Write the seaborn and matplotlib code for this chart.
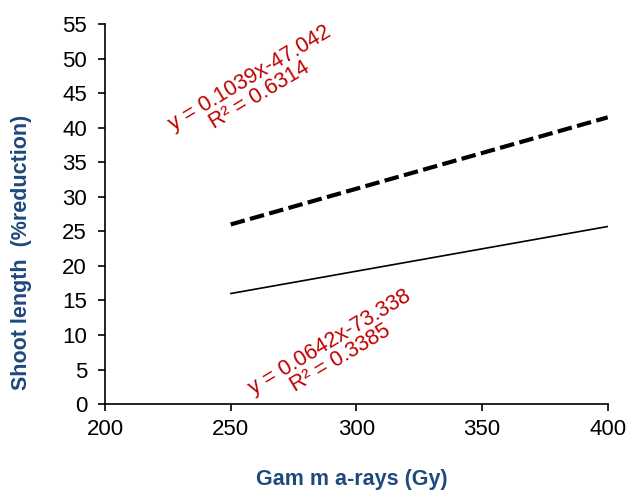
import numpy as np
import pandas as pd
import seaborn as sns
from matplotlib import pyplot as plt

# data
dose = [250, 400]
upper = [26.0, 41.5]
lower = [16.0, 25.7]
eq_upper = 'y = 0.1039x-47.042\nR² = 0.6314'
eq_lower = 'y = 0.0642x-73.338\nR² = 0.3385'
x_ticks = [200, 250, 300, 350, 400]
y_ticks = list(range(0, 60, 5))

sns.set_style('ticks', {'axes.edgecolor': 'black', 'xtick.color': 'black',
                        'ytick.color': 'black', 'text.color': 'black'})
plt.rcParams['font.family'] = ['Liberation Sans', 'DejaVu Sans']

df = pd.DataFrame({'dose': dose + dose,
                   'value': upper + lower,
                   'series': ['upper'] * 2 + ['lower'] * 2})

fig, ax = plt.subplots(figsize=(6.33, 4.91), dpi=100)
fig.subplots_adjust(left=0.166, right=0.96, top=0.951, bottom=0.177)

sns.lineplot(data=df[df.series == 'upper'], x='dose', y='value', ax=ax,
             color='black', linewidth=3, linestyle=(0, (3.5, 1.3)))
sns.lineplot(data=df[df.series == 'lower'], x='dose', y='value', ax=ax,
             color='black', linewidth=1.2)

ax.set_xlim(200, 400)
ax.set_ylim(0, 55)
ax.set_xticks(x_ticks)
ax.set_yticks(y_ticks)
ax.tick_params(labelsize=16, length=5, width=1.2, direction='out',
               color='black', labelcolor='black')
ax.tick_params(axis='x', pad=6)
ax.tick_params(axis='y', pad=8)
for side in ['left', 'bottom']:
    ax.spines[side].set_linewidth(1.2)
    ax.spines[side].set_color('black')
sns.despine(ax=ax)

ax.set_xlabel('Gam m a-rays (Gy)', fontsize=15.5, fontweight='bold', color='#1F497D')
ax.set_ylabel('Shoot length  (%reduction)', fontsize=15.5, fontweight='bold', color='#1F497D')
ax.xaxis.set_label_coords(0.49, -0.17)
ax.yaxis.set_label_coords(-0.145, 0.4)

ax.text(259.6, 45.9, eq_upper, color='#C00000', fontsize=15.5, rotation=31,
        ha='center', va='center', rotation_mode='anchor', linespacing=0.9)
ax.text(291.5, 7.8, eq_lower, color='#C00000', fontsize=15.5, rotation=31,
        ha='center', va='center', rotation_mode='anchor', linespacing=0.9)

plt.savefig('out.png', dpi=100)
plt.close()
